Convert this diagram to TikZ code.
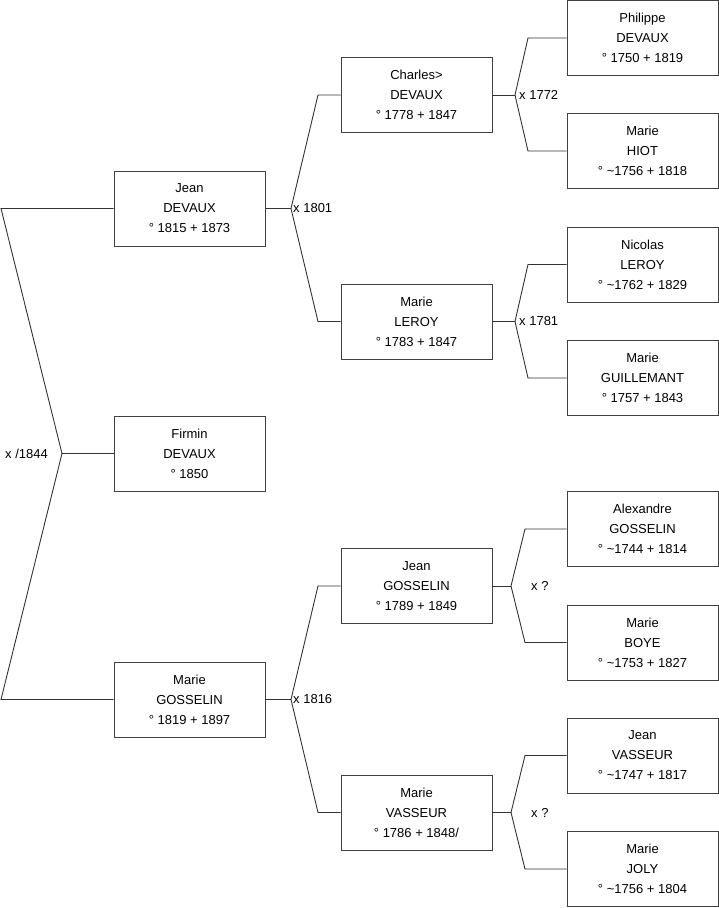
\documentclass[tikz,border=0pt]{standalone}
\usepackage{fontspec}
\setmainfont{Liberation Sans}
\begin{document}
\begin{tikzpicture}[x=1pt,y=-1pt,
  person/.style={draw=black!75,line width=0.9pt,rectangle,minimum width=151pt,minimum height=75pt,
    inner sep=0pt,align=center,font=\fontsize{13}{20}\selectfont},
  link/.style={draw=black!80,line width=0.9pt},
  lbl/.style={anchor=west,inner sep=0pt,font=\fontsize{13}{14}\selectfont}]
\useasboundingbox (0,0) rectangle (719,908);
% generation 1
\node[person] (jean)   at (189.5,208.5) {Jean\\DEVAUX\\° 1815 + 1873};
\node[person] (firmin) at (189.5,453.5) {Firmin\\DEVAUX\\° 1850};
\node[person] (marieG) at (189.5,699.5) {Marie\\GOSSELIN\\° 1819 + 1897};
% generation 2
\node[person] (charles) at (416.5,95)    {Charles>\\DEVAUX\\° 1778 + 1847};
\node[person] (leroy)   at (416.5,321.5) {Marie\\LEROY\\° 1783 + 1847};
\node[person] (jeanG)   at (416.5,586)   {Jean\\GOSSELIN\\° 1789 + 1849};
\node[person] (vasseur) at (416.5,812.5) {Marie\\VASSEUR\\° 1786 + 1848/};
% generation 3
\node[person] (philippe) at (642.5,38)    {Philippe\\DEVAUX\\° 1750 + 1819};
\node[person] (hiot)     at (642.5,151)   {Marie\\HIOT\\° \textasciitilde 1756 + 1818};
\node[person] (nicolas)  at (642.5,264.5) {Nicolas\\LEROY\\° \textasciitilde 1762 + 1829};
\node[person] (guill)    at (642.5,378)   {Marie\\GUILLEMANT\\° 1757 + 1843};
\node[person] (alex)     at (642.5,529)   {Alexandre\\GOSSELIN\\° \textasciitilde 1744 + 1814};
\node[person] (boye)     at (642.5,642.5) {Marie\\BOYE\\° \textasciitilde 1753 + 1827};
\node[person] (jeanV)    at (642.5,755.5) {Jean\\VASSEUR\\° \textasciitilde 1747 + 1817};
\node[person] (joly)     at (642.5,869)   {Marie\\JOLY\\° \textasciitilde 1756 + 1804};
% bracket coordinates
\coordinate (a0) at (1,208.5);
\coordinate (b0) at (1,699.5);
\coordinate (v0) at (62,453.5);
\coordinate (v1) at (291,208.5);
\coordinate (t1) at (318,95);
\coordinate (u1) at (318,321.5);
\coordinate (v2) at (291,699.5);
\coordinate (t2) at (318,586);
\coordinate (u2) at (318,812.5);
\coordinate (v3) at (515,95);
\coordinate (t3) at (528,38);
\coordinate (u3) at (528,151);
\coordinate (v4) at (515,321.5);
\coordinate (t4) at (528,264.5);
\coordinate (u4) at (528,378);
\coordinate (v5) at (511,586);
\coordinate (t5) at (525,529);
\coordinate (u5) at (525,642.5);
\coordinate (v6) at (511,812.5);
\coordinate (t6) at (525,755.5);
\coordinate (u6) at (525,869);
% connectors
\draw[link] (jean.west) -- (a0) -- (v0) -- (b0) -- (marieG.west);
\draw[link] (v0) -- (firmin.west);
\draw[link] (jean.east) -- (v1);
\draw[link] (charles.west) -- (t1) -- (v1) -- (u1) -- (leroy.west);
\draw[link] (marieG.east) -- (v2);
\draw[link] (jeanG.west) -- (t2) -- (v2) -- (u2) -- (vasseur.west);
\draw[link] (charles.east) -- (v3);
\draw[link] (philippe.west) -- (t3) -- (v3) -- (u3) -- (hiot.west);
\draw[link] (leroy.east) -- (v4);
\draw[link] (nicolas.west) -- (t4) -- (v4) -- (u4) -- (guill.west);
\draw[link] (jeanG.east) -- (v5);
\draw[link] (alex.west) -- (t5) -- (v5) -- (u5) -- (boye.west);
\draw[link] (vasseur.east) -- (v6);
\draw[link] (jeanV.west) -- (t6) -- (v6) -- (u6) -- (joly.west);
% labels
\node[lbl] (l0) at (5,453.5) {x /1844};
\node[lbl] (l1) at (293,208.5) {x 1801};
\node[lbl] (l2) at (293,699.5) {x 1816};
\node[lbl] (l3) at (519,95) {x 1772};
\node[lbl] (l4) at (519,321.5) {x 1781};
\node[lbl] (l5) at (531,586) {x ?};
\node[lbl] (l6) at (531,812.5) {x ?};
\end{tikzpicture}
\end{document}
